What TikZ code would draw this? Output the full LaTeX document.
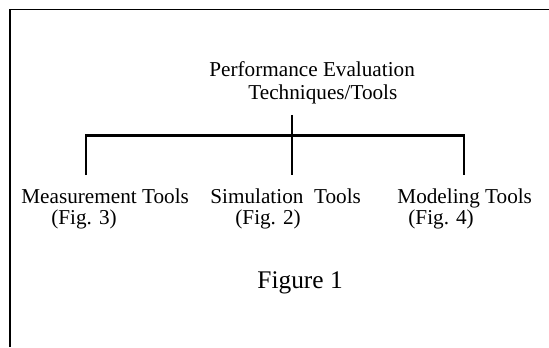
\documentclass[tikz,border=0pt]{standalone}
\usepackage{fontspec}
\setmainfont{Liberation Serif}
\begin{document}
\begin{tikzpicture}[x=0.5pt, y=-0.5pt,
        label/.style={anchor=base west, inner sep=0pt, font=\fontsize{10.6}{13}\selectfont},
        caption/.style={anchor=base west, inner sep=0pt, font=\fontsize{12.7}{15}\selectfont},
        branch/.style={line width=1.2pt},
        frame/.style={line width=0.6pt}]
                \useasboundingbox (0, 0) rectangle (549, 347);
                \draw[frame] (10, 347) -- (10, 9.5) -- (549, 9.5);
                \node[label] (perf) at (209, 77) {Performance Evaluation};
                \node[label] (tech) at (248, 100) {Techniques/Tools};
                \node[label] (meas) at (21, 203) {Measurement Tools};
                \node[label] (measfig) at (51, 224) {(Fig. 3)};
                \node[label] (simu) at (210, 203) {Simulation\ \ Tools};
                \node[label] (simufig) at (235, 224) {(Fig. 2)};
                \node[label] (mode) at (397, 203) {Modeling Tools};
                \node[label] (modefig) at (408, 224) {(Fig. 4)};
                \node[caption] (fig) at (257, 288) {Figure 1};
                \coordinate (root) at (292, 115);
                \coordinate (hub) at (292, 135.5);
                \coordinate (measleg) at (86, 175);
                \coordinate (simuleg) at (292, 175);
                \coordinate (modeleg) at (464, 175);
                \draw[branch] (root) -- (simuleg);
                \draw[branch] (measleg) |- (hub) -| (modeleg);
            \end{tikzpicture}
\end{document}
